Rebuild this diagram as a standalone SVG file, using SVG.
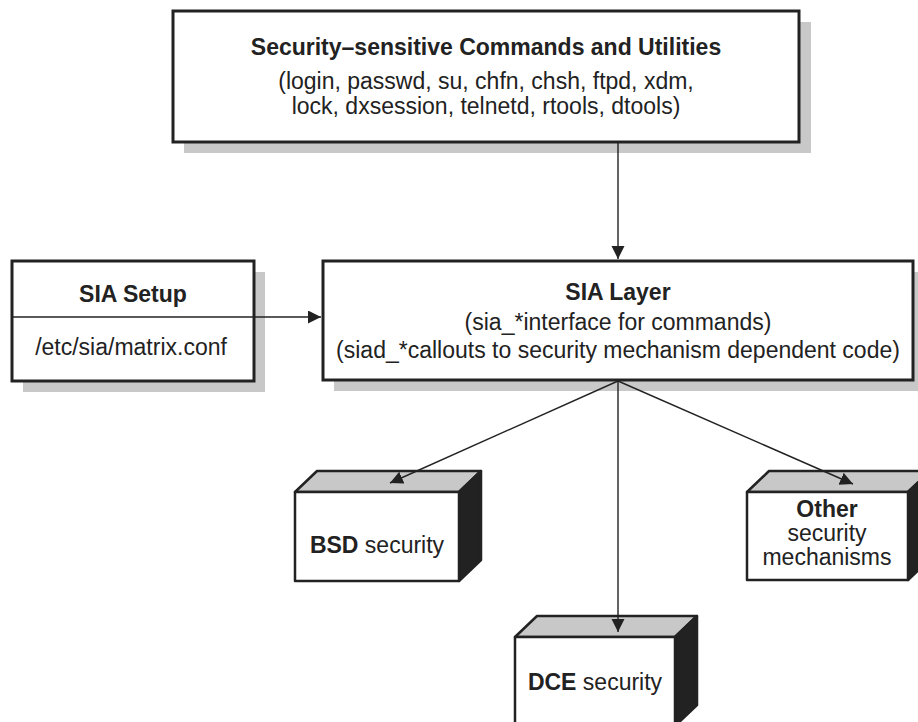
<svg xmlns="http://www.w3.org/2000/svg" width="918" height="722" viewBox="0 0 918 722">
<defs>
<style>
.txt{font-family:"Liberation Sans",Arial,Helvetica,sans-serif;font-size:23px;fill:#222}
.b{font-weight:bold}
.shadow{fill:#c8c8c8;stroke:none}
.box{fill:#fff;stroke:#222;stroke-width:3}
.face{fill:#fff;stroke:#222;stroke-width:2.5;stroke-linejoin:round}
.top{fill:#c8c8c8;stroke:#222;stroke-width:2.5;stroke-linejoin:round}
.side{fill:#222;stroke:#222;stroke-width:2.5;stroke-linejoin:round}
.edge{fill:none;stroke:#222;stroke-width:1.4}
</style>
<marker id="arr" markerUnits="userSpaceOnUse" markerWidth="14" markerHeight="14" refX="13" refY="6.5" orient="auto">
<path d="M0,0 L13,6.5 L0,13 Z" fill="#222"/>
</marker>
</defs>
<rect width="918" height="722" fill="#fff"/>

<g id="commands">
<rect class="shadow" x="184" y="22" width="627" height="131"/>
<rect class="box" x="173" y="11" width="626" height="131"/>
<text class="txt b" x="486" y="55" text-anchor="middle">Security–sensitive Commands and Utilities</text>
<text class="txt" x="486" y="89" text-anchor="middle">(login, passwd, su, chfn, chsh, ftpd, xdm,</text>
<text class="txt" x="486" y="114" text-anchor="middle">lock, dxsession, telnetd, rtools, dtools)</text>
</g>

<g id="sia-setup">
<rect class="shadow" x="23" y="272" width="242" height="120"/>
<rect class="box" x="12" y="261" width="242" height="120"/>
<line x1="12" y1="317" x2="254" y2="317" stroke="#222" stroke-width="1.4"/>
<text class="txt b" x="133" y="302" text-anchor="middle">SIA Setup</text>
<text class="txt" x="131" y="355" text-anchor="middle">/etc/sia/matrix.conf</text>
</g>

<g id="sia-layer">
<rect class="shadow" x="334" y="272" width="590" height="119"/>
<rect class="box" x="323" y="261" width="590" height="119"/>
<text class="txt b" x="618" y="300" text-anchor="middle">SIA Layer</text>
<text class="txt" x="618" y="330" text-anchor="middle">(sia_*interface for commands)</text>
<text class="txt" x="618" y="358" text-anchor="middle">(siad_*callouts to security mechanism dependent code)</text>
</g>

<g id="bsd">
<polygon class="top" points="295,492 317,471 481,471 459,492"/>
<polygon class="side" points="459,492 481,471 481,560 459,581"/>
<rect class="face" x="295" y="492" width="164" height="89"/>
<text class="txt" x="377" y="553" text-anchor="middle"><tspan class="b">BSD</tspan> security</text>
</g>

<g id="other">
<polygon class="top" points="747,492 769,471 930,471 908,492"/>
<polygon class="side" points="908,492 930,471 930,559 908,580"/>
<rect class="face" x="747" y="492" width="161" height="88"/>
<text class="txt b" x="827" y="517" text-anchor="middle">Other</text>
<text class="txt" x="827" y="541" text-anchor="middle">security</text>
<text class="txt" x="827" y="565" text-anchor="middle">mechanisms</text>
</g>

<g id="dce">
<polygon class="top" points="515,637 537,616 697,616 675,637"/>
<polygon class="side" points="675,637 697,616 697,705 675,726"/>
<rect class="face" x="515" y="637" width="160" height="89"/>
<text class="txt" x="595" y="690" text-anchor="middle"><tspan class="b">DCE</tspan> security</text>
</g>

<g id="connectors">
<line class="edge" x1="618" y1="143" x2="618" y2="259" marker-end="url(#arr)"/>
<line class="edge" x1="254" y1="317" x2="321" y2="317" marker-end="url(#arr)"/>
<line class="edge" x1="618" y1="381" x2="390" y2="483" marker-end="url(#arr)"/>
<line class="edge" x1="618" y1="381" x2="853" y2="484" marker-end="url(#arr)"/>
<line class="edge" x1="618" y1="381" x2="618" y2="632" marker-end="url(#arr)"/>
</g>
</svg>
